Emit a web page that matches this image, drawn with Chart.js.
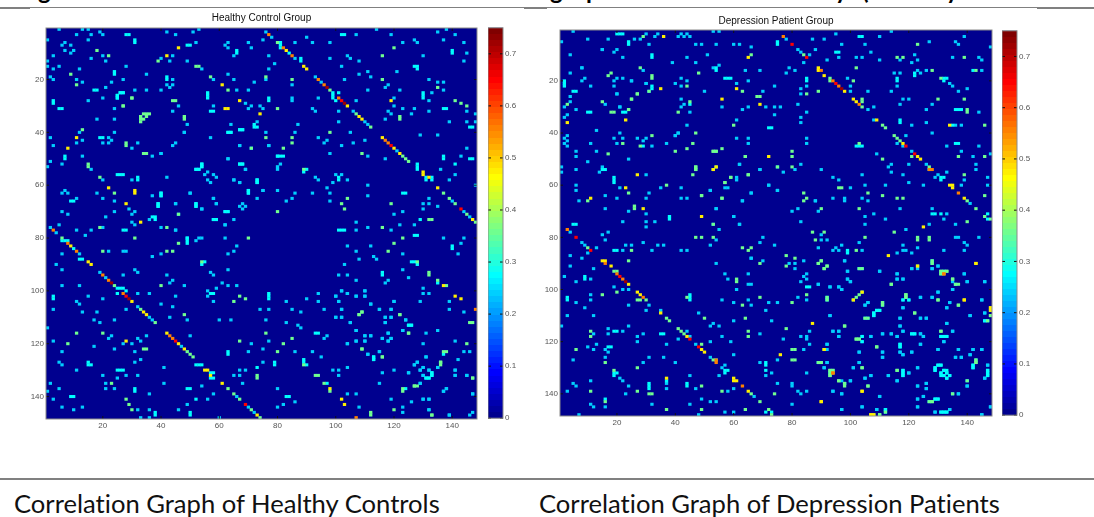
<!DOCTYPE html>
<html>
<head>
<meta charset="utf-8">
<script src="https://cdn.jsdelivr.net/npm/chart.js@4"></script>
<style>
  html, body { margin: 0; padding: 0; background: #fff; overflow: hidden; }
  body { width: 1094px; height: 517px; position: relative; }
  .box { position: absolute; }
  .box canvas { filter: blur(0.5px); }
  .rule { position: absolute; background: #808080; }
  .caption { position: absolute; top: 488px; font: 25.6px/30px Lato, sans-serif; font-variant-ligatures: none; color: #111; white-space: nowrap; }
  .cut { position: absolute; top: -22px; font: bold 24px/24px Lato, sans-serif; color: #000; }
</style>
</head>
<body>
<div class="cut" style="left:38px">g</div>
<div class="cut" style="left:550px">g</div>
<div class="cut" style="left:586px">p</div>
<div class="cut" style="left:835px">y</div>
<div class="cut" style="left:862px">(</div>
<div class="cut" style="left:946px">y</div>
<div class="rule" style="left:0;top:7px;width:1094px;height:1px"></div>
<div class="rule" style="left:0;top:7px;width:30px;height:2px"></div>
<div class="rule" style="left:524px;top:7px;width:23px;height:2px"></div>
<div class="rule" style="left:1037px;top:7px;width:57px;height:2px"></div>
<div class="box" style="left:16px;top:12px;width:463px;height:425px"><canvas id="healthy"></canvas></div>
<div class="box" style="left:530px;top:15px;width:464px;height:419px"><canvas id="patient"></canvas></div>
<div class="box" style="left:488px;top:21px;width:32px;height:404px"><canvas id="healthyBar"></canvas></div>
<div class="box" style="left:1002px;top:24px;width:32px;height:398px"><canvas id="patientBar"></canvas></div>
<div class="rule" style="left:0;top:478px;width:1094px;height:2px"></div>
<div class="caption" style="left:14px">Correlation Graph of Healthy Controls</div>
<div class="caption" style="left:539px">Correlation Graph of Depression Patients</div>
<script>
// cell values, [col, row] per colour band, upper half only
// (both matrices are symmetric so the other half is mirrored when the data is built)
const bandValues = { low: 0.24, cyan: 0.28, green: 0.36, yellow: 0.47, orange: 0.56, red: 0.65, dark: 0.72 };
const axisTicks = [20, 40, 60, 80, 100, 120, 140];
const colorbarTicks = [0, 0.1, 0.2, 0.3, 0.4, 0.5, 0.6, 0.7];
const colorbarRange = [0, 0.75];

const healthyLow = [[5,1],[11,3],[13,1],[15,1],[16,3],[19,2],[20,3],[15,5],[42,2],[45,3],[51,2],[53,1],[52,6],[63,6],[62,7],[63,8],[65,11],[70,6],[71,8],[75,5],[78,4],[7,6],[9,7],[10,9],[20,11],[16,12],[21,13],[40,12],[44,11],[43,13],[49,13],[28,15],[54,16],[63,18],[58,20],[65,20],[66,24],[70,24],[72,21],[76,20],[77,16],[79,14],[77,11],[23,21],[27,20],[35,18],[44,20],[44,22],[43,23],[42,22],[31,24],[35,24],[40,24],[46,30],[44,32],[69,29],[71,30],[70,31],[74,30],[75,31],[58,30],[49,37],[48,40],[64,37],[73,36],[76,40],[57,42],[67,45],[77,45],[45,44],[40,48],[63,50],[69,54],[56,55],[58,56],[59,57],[65,58],[67,59],[70,62],[70,63],[75,62],[80,53],[80,49],[80,62],[58,65],[59,67],[50,63],[45,67],[54,69],[46,71],[68,67],[69,68],[65,73],[62,75],
[76,2],[86,12],[93,19],[95,21],[106,32],[110,36],[111,37],[121,47],[140,66],[144,70],[146,72],[86,6],[92,6],[98,6],[90,4],[107,3],[114,1],[119,3],[135,2],[138,1],[141,3],[137,5],[127,5],[128,6],[123,6],[144,6],[145,10],[144,13],[104,11],[105,12],[108,13],[98,12],[130,11],[102,15],[108,18],[111,17],[112,19],[121,17],[103,20],[118,22],[117,23],[132,20],[135,21],[137,21],[137,24],[122,24],[111,24],[133,25],[132,28],[107,28],[120,27],[120,30],[123,31],[127,31],[132,32],[145,32],[118,32],[119,33],[126,33],[101,32],[117,35],[101,36],[139,36],[145,36],[148,33],[148,36],[105,40],[129,41],[135,41],[86,40],[87,37],[94,42],[97,43],[96,44],[106,44],[110,43],[102,45],[145,46],[98,48],[111,49],[117,50],[143,49],[136,54],[141,56],[139,58],[148,60],[111,60],[111,64],[130,67],[132,67],[135,68],[132,65],[98,66],[98,63],[92,63],[86,63],[97,61],[85,65],[83,66],[93,57],[94,58],[100,56],[102,56],[99,59],[104,58],[81,52],[80,54],[85,22],[85,27],[85,28],[94,27],[92,31],[93,32],[77,45],[123,70],[120,71],[107,74],[130,69],
[107,77],[111,76],[119,77],[122,75],[127,75],[137,80],[144,80],[143,82],[142,86],[112,83],[104,83],[123,86],[107,85],[113,87],[114,88],[108,88],[103,90],[123,92],[125,95],[118,96],[117,97],[107,96],[101,94],[104,94],[130,99],[130,101],[132,101],[110,100],[102,100],[104,101],[110,102],[107,102],[100,102],[139,104],[129,104],[120,104],[101,104],[112,105],[139,107],[119,107],[115,107],[102,107],[144,108],[119,110],[117,110],[102,110],[100,110],[124,111],[117,112],[105,112],[123,115],[135,115],[131,116],[118,116],[107,115],[110,117],[112,117],[116,118],[119,118],[118,119],[110,119],[107,119],[104,120],[141,119],[130,120],[115,123],[144,123],[146,123],[111,124],[131,125],[142,126],[128,127],[127,128],[135,129],[130,129],[129,130],[132,130],[141,130],[125,131],[130,132],[141,132],[145,132],[129,135],[138,137],[137,138],[147,139],[130,141],[132,141],[132,145],[139,147],[146,147]];
const healthyCyan = [[28,3],[29,3],[31,5],[31,6],[49,7],[50,7],[66,9],[66,10],[24,17],[24,18],[42,19],[42,20],[56,25],[56,26],[56,27],[26,25],[27,25],[25,26],[25,27],[77,27],[77,28],[57,32],[58,32],[67,39],[68,39],[72,37],[72,38],[73,38],[63,40],[64,40],[67,52],[68,52],[54,52],[54,53],[52,54],[53,54],[73,58],[73,59],[40,63],[40,64],[52,67],[52,68],[39,67],[39,68],[62,70],[63,70],[58,73],[59,73],
[81,6],[81,7],[81,8],[84,10],[88,12],[88,13],[99,25],[99,26],[99,27],[101,25],[100,28],[128,52],[128,53],[128,54],[131,57],[131,58],[133,57],[133,58],[102,3],[103,3],[140,9],[140,10],[127,15],[128,15],[128,16],[130,25],[130,26],[130,27],[137,31],[138,31],[146,38],[147,38],[137,49],[137,50],[146,50],[147,50],[141,52],[123,63],[124,63],[89,55],[90,54],[101,57],[101,58],[81,49],[80,49],[82,49],[129,73],[101,77],[102,77],[103,77],[127,79],[128,79],[140,83],[140,84],[126,89],[127,89],[128,90],[116,93],[116,94],[135,97],[125,113],[126,113],[137,124],[113,125],[113,126],[133,131],[133,132],[131,133],[132,133]];
const healthyGreen = [[34,33],[35,33],[36,33],[35,34],[18,9],[22,11],[39,13],[52,15],[53,15],[57,19],[63,24],[30,27],[44,28],[45,28],[27,30],[80,31],[48,34],[48,35],[76,42],[71,46],[80,70],[80,6],[98,24],[107,33],[112,38],[123,49],[124,50],[125,51],[137,63],[139,65],[141,67],[145,71],[148,74],[120,8],[116,11],[116,20],[135,23],[141,28],[143,29],[145,30],[122,34],[122,35],[98,40],[109,48],[104,65],[119,67],[102,67],[103,69],[85,20],[85,42],[85,44],[82,46],[76,19],[89,54],[132,73],[133,73],[116,76],[123,80],[120,82],[118,85],[132,93],[132,94],[135,96],[138,98],[109,108],[122,109],[146,112],[147,112],[125,116],[145,120],[109,122],[137,123],[138,123],[116,125],[136,127],[136,128],[147,133],[127,136],[133,147],[128,89],[108,109]];
const healthyYellow = [[46,8],[61,22],[67,28],[42,11],[62,31],[63,31],[74,33],[83,9],[89,15],[90,16],[104,30],[108,34],[109,35],[120,46],[122,48],[130,55],[130,56],[132,57],[135,61],[147,73],[119,28],[137,98],[141,102],[143,103],[116,42]];
const healthyOrange = [[77,3],[82,8],[85,11],[94,20],[96,22],[101,27],[117,43],[118,44],[148,107]];
const healthyRed = [[102,28],[119,45],[143,69]];
const healthyDark = [[97,23],[103,29]];

const patientLow = [[5,1],[30,2],[34,2],[33,3],[26,4],[28,4],[41,3],[42,2],[43,3],[44,2],[45,3],[53,1],[55,1],[10,4],[17,4],[31,6],[47,6],[49,6],[54,6],[60,6],[62,6],[78,4],[66,7],[82,8],[83,9],[86,10],[88,8],[87,4],[51,10],[44,11],[47,13],[39,13],[22,11],[20,8],[19,9],[15,8],[84,13],[55,14],[53,15],[8,15],[29,16],[64,16],[69,16],[79,15],[78,17],[81,16],[22,19],[20,19],[25,20],[42,19],[44,20],[61,21],[65,20],[74,22],[85,22],[40,21],[42,22],[30,21],[70,24],[50,24],[83,23],[83,25],[20,25],[42,27],[43,29],[42,30],[56,30],[63,31],[65,30],[71,30],[74,30],[76,30],[82,29],[74,33],[85,32],[83,34],[83,36],[45,32],[24,31],[21,30],[61,35],[44,37],[41,40],[40,41],[61,42],[65,42],[65,44],[85,42],[85,44],[83,52],[62,52],[77,55],[81,54],[69,54],[61,58],[72,60],[57,61],[75,62],[52,62],[66,63],[63,66],[88,66],[54,69],[80,70],[82,69],[60,72],[83,74],[53,75],[62,75],
[91,4],[95,2],[110,3],[114,1],[97,6],[105,6],[107,9],[96,11],[102,11],[104,11],[110,12],[92,12],[127,5],[136,5],[137,6],[139,3],[148,7],[122,10],[117,12],[123,12],[121,13],[135,11],[144,11],[145,12],[99,19],[100,22],[100,24],[106,24],[114,24],[116,22],[115,17],[117,17],[123,16],[124,17],[126,16],[134,21],[135,22],[137,24],[140,23],[145,16],[106,31],[108,30],[108,35],[119,41],[116,44],[118,45],[121,47],[126,52],[129,57],[130,56],[133,55],[141,67],[118,27],[120,27],[117,29],[128,29],[126,31],[144,32],[126,36],[121,37],[136,37],[138,37],[128,40],[133,45],[144,45],[138,47],[148,48],[142,49],[143,52],[143,54],[147,57],[139,58],[138,60],[147,60],[120,59],[118,56],[125,60],[114,55],[113,53],[114,52],[109,48],[120,52],[112,60],[105,60],[104,56],[104,65],[106,66],[100,61],[94,65],[98,65],[98,66],[94,57],[96,58],[90,54],[88,66],[89,70],[117,69],[108,71],[112,73],[105,72],[128,69],[133,71],[132,73],[127,75],[105,75],
[136,75],[119,77],[90,79],[90,81],[92,81],[103,82],[136,80],[137,80],[144,80],[139,82],[140,83],[118,83],[118,85],[119,85],[123,84],[97,83],[95,84],[94,85],[96,85],[104,85],[89,84],[116,86],[121,86],[132,85],[139,85],[98,89],[99,93],[110,93],[121,92],[123,92],[128,92],[130,91],[139,94],[116,94],[116,96],[118,96],[99,96],[100,97],[135,97],[140,97],[146,97],[89,98],[93,99],[96,99],[97,100],[135,100],[130,101],[118,104],[120,104],[124,103],[128,103],[145,104],[106,105],[105,106],[134,105],[118,107],[133,107],[146,109],[141,110],[93,110],[105,111],[106,111],[117,111],[124,111],[126,111],[133,113],[117,114],[94,116],[96,116],[118,116],[135,116],[111,117],[114,117],[124,117],[125,118],[96,118],[107,118],[116,118],[132,120],[92,121],[124,121],[130,123],[137,123],[142,123],[145,123],[103,124],[111,124],[117,124],[118,125],[121,124],[141,125],[111,126],[136,126],[138,126],[92,128],[103,128],[91,130],[101,130],[123,130],[147,129],[120,132],[107,133],[113,133],[105,134],[146,134],[100,135],[116,135],[126,136],[140,137],[123,137],[126,138],[94,139],[135,140],[137,140],[97,140],[110,141],[125,141],[123,142],[104,145],[123,145],[148,145],[97,146],[109,146],[134,146],[129,147],[145,148]];
const patientCyan = [[21,2],[20,2],[22,2],[24,5],[24,6],[75,5],[75,6],[32,10],[32,11],[54,15],[54,16],[57,19],[58,19],[59,19],[85,19],[85,20],[32,22],[32,23],[45,29],[72,38],[73,38],[103,3],[104,3],[95,9],[96,9],[122,17],[122,18],[116,19],[116,20],[132,19],[132,20],[133,19],[117,35],[117,36],[135,37],[136,31],[137,31],[138,31],[136,44],[137,44],[102,45],[103,45],[104,45],[131,57],[131,58],[132,57],[128,71],[129,71],[131,71],[147,71],[147,73],[142,16],[127,54],[108,109],[109,108],[110,108],[108,110],[112,146],[112,147],[103,92],[104,92],[99,85],[99,86],[121,117],[122,117],[131,118],[132,118],[133,118],[104,118],[104,120],[117,121],[117,122],[89,128],[90,128],[142,129],[142,130],[130,129],[131,129],[129,130],[129,131],[93,132],[118,131],[118,132],[118,133],[132,131],[133,132],[132,133],[131,132],[131,133],[134,133],[133,134],[147,131],[147,132],[147,133],[98,136],[127,143],[129,142],[130,142],[131,147],[132,147],[133,147],[146,112]];
const patientGreen = [[29,3],[84,10],[66,10],[48,17],[28,15],[18,17],[32,18],[32,19],[44,22],[63,24],[85,25],[89,24],[27,25],[25,27],[31,24],[68,26],[69,26],[45,28],[41,32],[60,37],[47,40],[46,44],[54,47],[53,47],[56,46],[80,47],[80,49],[64,49],[54,53],[47,53],[47,54],[75,53],[80,53],[65,56],[59,57],[57,59],[49,64],[56,65],[84,63],[84,66],[85,65],[123,6],[116,11],[118,11],[139,11],[102,15],[93,19],[93,20],[101,20],[128,16],[143,16],[131,19],[104,30],[104,27],[104,28],[111,37],[112,38],[115,41],[116,42],[117,43],[103,44],[121,49],[127,53],[140,66],[143,69],[130,27],[139,27],[140,31],[140,32],[146,37],[137,49],[146,49],[139,56],[146,64],[111,50],[106,63],[111,64],[116,65],[118,65],[96,61],[97,61],[90,69],[103,69],[140,74],[146,72],[148,73],
[115,78],[87,78],[91,78],[105,80],[88,81],[123,80],[123,81],[127,80],[127,81],[102,85],[90,89],[89,90],[92,91],[91,92],[128,89],[128,90],[131,93],[132,93],[133,93],[131,94],[132,94],[135,96],[136,98],[137,98],[114,98],[92,103],[92,104],[119,102],[119,103],[130,104],[111,105],[111,106],[137,106],[122,109],[148,108],[148,110],[147,112],[98,114],[131,116],[102,119],[103,119],[109,122],[91,123],[143,127],[143,128],[104,130],[116,131],[93,131],[94,131],[93,133],[96,135],[140,135],[106,137],[128,143],[110,148],[102,103],[101,104]];
const patientYellow = [[36,3],[65,11],[35,23],[61,23],[56,27],[69,29],[72,49],[53,54],[89,15],[89,16],[91,18],[98,24],[101,27],[102,28],[109,35],[118,44],[123,49],[124,50],[134,37],[134,60],[135,60],[135,61],[139,65],[125,76],[123,91],[143,90],[104,101],[139,104],[148,107],[90,143],[107,148],[108,148],[104,139],[113,87]];
const patientOrange = [[77,3],[90,16],[94,20],[96,22],[103,29],[127,54],[128,54],[137,63],[94,132],[132,94]];
const patientRed = [[80,6],[85,11],[95,21],[119,45],[122,48]];
const patientDark = [[97,23]];

const healthyBands = { low: healthyLow, cyan: healthyCyan, green: healthyGreen, yellow: healthyYellow, orange: healthyOrange, red: healthyRed, dark: healthyDark };
const patientBands = { low: patientLow, cyan: patientCyan, green: patientGreen, yellow: patientYellow, orange: patientOrange, red: patientRed, dark: patientDark };

// matlab jet, 64 levels, i from 1 to 64
function jet(i) {
    const t = i / 64;
    const c = v => Math.round(255 * Math.max(0, Math.min(1, 1.5 - Math.abs(4 * t - v))));
    return 'rgb(' + c(3) + ',' + c(2) + ',' + c(1) + ')';
}

function colorFor(value) {
    const i = Math.min(64, Math.floor(value / colorbarRange[1] * 64) + 1);
    return jet(i);
}

function buildCells(bands) {
    const cells = [];
    Object.keys(bands).forEach(band => {
        bands[band].forEach(pair => {
            const v = bandValues[band];
            cells.push({ x: pair[0], y: [pair[1] - 0.5, pair[1] + 0.5], v: v });
            cells.push({ x: pair[1], y: [pair[0] - 0.5, pair[0] + 0.5], v: v });
        });
    });
    return cells;
}

// navy background, frame and the small inward ticks matlab draws
const framePlugin = {
    id: 'frame',
    beforeDatasetsDraw(chart) {
        const a = chart.chartArea;
        chart.ctx.fillStyle = jet(1);
        chart.ctx.fillRect(a.left, a.top, a.width, a.height);
    },
    afterDatasetsDraw(chart, args, opts) {
        const a = chart.chartArea;
        const ctx = chart.ctx;
        ctx.save();
        ctx.strokeStyle = '#111';
        ctx.lineWidth = 1;
        ctx.beginPath();
        const len = opts.tickLength;
        (opts.xTicks || []).forEach(t => {
            const x = chart.scales.x.getPixelForValue(t);
            ctx.moveTo(x, a.top); ctx.lineTo(x, a.top + len);
            ctx.moveTo(x, a.bottom); ctx.lineTo(x, a.bottom - len);
        });
        (opts.yTicks || []).forEach(t => {
            const y = chart.scales.y.getPixelForValue(t);
            ctx.moveTo(a.left, y); ctx.lineTo(a.left + len, y);
            ctx.moveTo(a.right, y); ctx.lineTo(a.right - len, y);
        });
        ctx.stroke();
        ctx.strokeStyle = '#8a8a8a';
        ctx.strokeRect(a.left, a.top, a.width, a.height);
        ctx.restore();
    }
};

function makeHeatmap(id, titleText, bands, titleGap) {
    const cells = buildCells(bands);
    return new Chart(document.getElementById(id), {
        type: 'bar',
        data: { datasets: [{ data: cells, backgroundColor: c => colorFor(c.raw.v), borderWidth: 0, barPercentage: 1, categoryPercentage: 1, inflateAmount: 0.2 }] },
        plugins: [framePlugin],
        options: {
            responsive: true, maintainAspectRatio: false, animation: false,
            layout: { padding: { right: 2, bottom: 0 } },
            plugins: {
                legend: { display: false },
                tooltip: { enabled: false },
                title: { display: true, text: titleText, fullSize: false, color: '#111', font: { family: 'Liberation Sans', size: 10, weight: 'normal' }, padding: { top: 0, bottom: titleGap } },
                frame: { xTicks: axisTicks, yTicks: axisTicks, tickLength: 3 }
            },
            scales: {
                x: {
                    type: 'linear', offset: false, min: 0.5, max: 148.5,
                    grid: { display: false, drawTicks: false }, border: { display: false },
                    afterBuildTicks: s => { s.ticks = axisTicks.map(v => ({ value: v })); },
                    afterFit: s => { s.height = 18; },
                    ticks: { color: '#555', font: { family: 'Liberation Sans', size: 8 }, padding: 2, maxRotation: 0, autoSkip: false }
                },
                y: {
                    type: 'linear', reverse: true, min: 0.5, max: 148.5,
                    grid: { display: false, drawTicks: false }, border: { display: false },
                    afterBuildTicks: s => { s.ticks = axisTicks.map(v => ({ value: v })); },
                    afterFit: s => { s.width = 30; },
                    ticks: { color: '#555', font: { family: 'Liberation Sans', size: 8 }, padding: 2, autoSkip: false }
                }
            }
        }
    });
}

function makeColorbar(id) {
    return new Chart(document.getElementById(id), {
        type: 'bar',
        data: {
            labels: ['r'],
            datasets: [{
                data: [colorbarRange],
                barPercentage: 1, categoryPercentage: 1, borderWidth: 0,
                backgroundColor: c => {
                    const a = c.chart.chartArea;
                    if (!a) return '#000';
                    const g = c.chart.ctx.createLinearGradient(0, a.bottom, 0, a.top);
                    for (let i = 0; i < 64; i++) {
                        g.addColorStop(i / 64, jet(i + 1));
                        g.addColorStop((i + 1) / 64, jet(i + 1));
                    }
                    return g;
                }
            }]
        },
        plugins: [framePlugin],
        options: {
            responsive: true, maintainAspectRatio: false, animation: false,
            layout: { padding: { top: 6, bottom: 6 } },
            plugins: { legend: { display: false }, tooltip: { enabled: false }, frame: { yTicks: colorbarTicks, tickLength: 3 } },
            scales: {
                x: { display: false },
                y: {
                    position: 'right', min: colorbarRange[0], max: colorbarRange[1],
                    grid: { display: false, drawTicks: false }, border: { display: false },
                    afterBuildTicks: s => { s.ticks = colorbarTicks.map(v => ({ value: v })); },
                    afterFit: s => { s.width = 17; },
                    ticks: { color: '#555', font: { family: 'Liberation Sans', size: 8 }, padding: 2, autoSkip: false }
                }
            }
        }
    });
}

makeHeatmap('healthy', 'Healthy Control Group', healthyBands, 4);
makeHeatmap('patient', 'Depression Patient Group', patientBands, 3);
makeColorbar('healthyBar');
makeColorbar('patientBar');
</script>
</body>
</html>
